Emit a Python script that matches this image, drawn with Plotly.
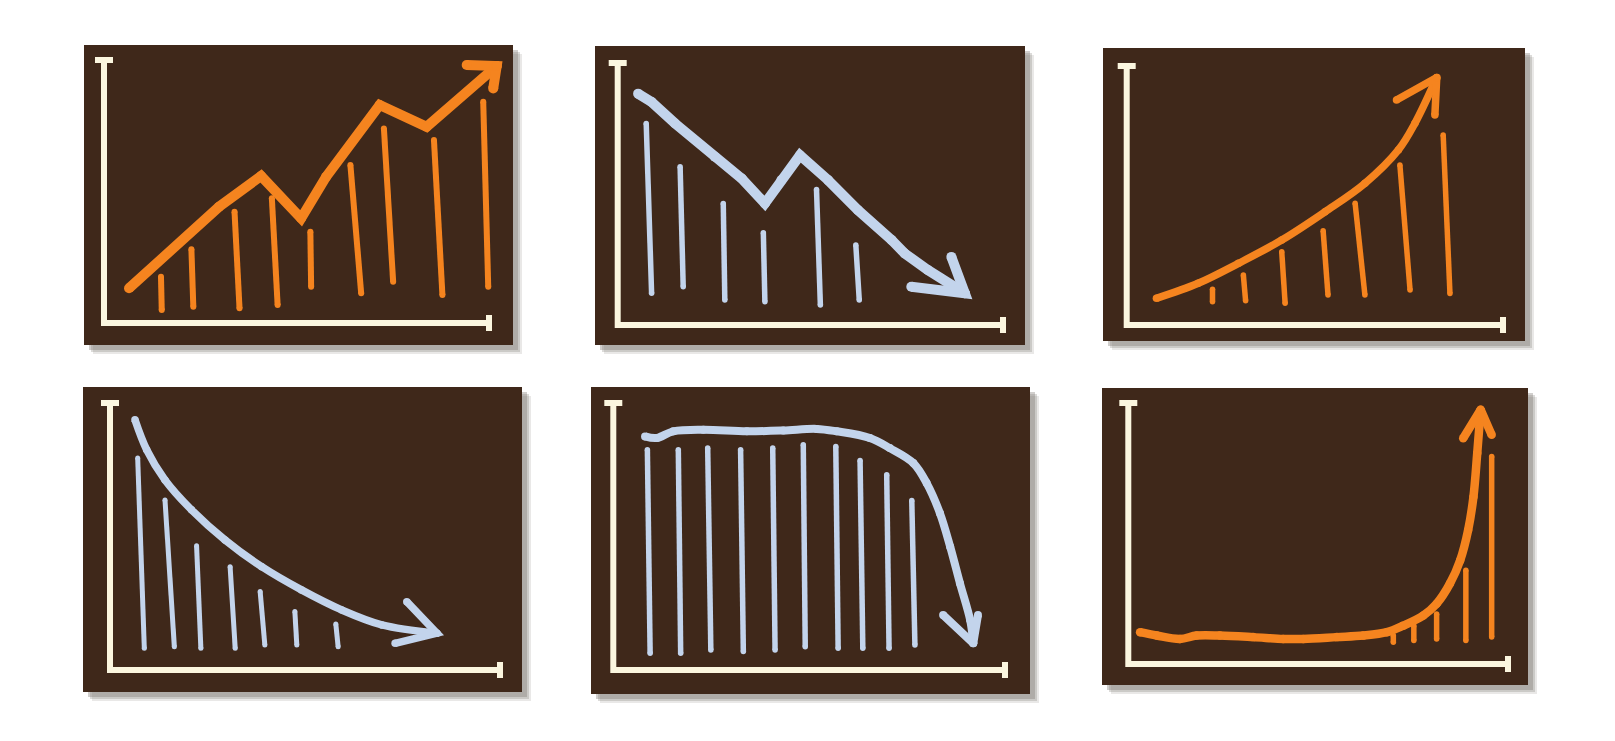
import plotly.graph_objects as go

# The page body keeps its default 8px margin, so the figure is drawn inside it.
PAGE_W, PAGE_H = 1615, 741
OFF = 8
W, H = PAGE_W - 2 * OFF, PAGE_H - 2 * OFF
BROWN = "#3f281a"
ORANGE = "#f5841f"
BLUE = "#c3d4ec"
CREAM = "#fbf6df"

# ---------------- data (values on a 0-10 scale inside each mini chart) ----------------
# Panel 1: zig-zag rise (orange)
p1_line_x = [0.65, 2.99, 4.08, 5.12, 5.77, 7.16, 8.38, 10.20]
p1_line_y = [1.32, 4.42, 5.59, 3.98, 5.56, 8.29, 7.46, 9.77]
p1_head_x = [9.42, 10.20, 10.11]
p1_head_y = [9.81, 9.77, 8.92]
p1_bar_xt = [1.48, 2.27, 3.39, 4.36, 5.36, 6.40, 7.27, 8.57, 9.85]
p1_bar_xb = [1.50, 2.32, 3.52, 4.51, 5.38, 6.68, 7.51, 8.79, 9.98]
p1_bar_top = [1.76, 2.80, 4.23, 4.74, 3.47, 6.01, 7.40, 6.96, 8.41]
p1_bar_bot = [0.49, 0.62, 0.56, 0.68, 1.38, 1.13, 1.57, 1.06, 1.38]

# Panel 2: zig-zag decline (blue)
p2_line_x = [0.53, 0.88, 1.49, 2.52, 3.22, 3.82, 4.25, 4.73, 5.46, 6.24, 7.11, 7.45, 8.05, 9.01]
p2_line_y = [8.83, 8.51, 7.69, 6.42, 5.59, 4.64, 5.53, 6.48, 5.53, 4.38, 3.24, 2.73, 2.10, 1.21]
p2_head_x = [7.62, 9.01, 8.66]
p2_head_y = [1.46, 1.21, 2.60]
p2_bar_xt = [0.74, 1.62, 2.74, 3.78, 5.16, 6.18]
p2_bar_xb = [0.88, 1.70, 2.78, 3.82, 5.26, 6.27]
p2_bar_top = [7.69, 6.04, 4.64, 3.52, 5.17, 3.05]
p2_bar_bot = [1.21, 1.46, 0.95, 0.89, 0.76, 0.95]

# Panel 3: smooth growth (orange)
p3_line_x = [0.79, 1.90, 2.97, 4.12, 5.27, 6.33, 7.22, 7.66, 8.24]
p3_line_y = [1.03, 1.61, 2.38, 3.28, 4.37, 5.47, 6.76, 7.79, 9.56]
p3_head_x = [7.17, 8.24, 8.19]
p3_head_y = [8.69, 9.56, 8.11]
p3_bar_xt = [2.28, 3.10, 4.12, 5.22, 6.07, 7.26, 8.41]
p3_bar_xb = [2.28, 3.16, 4.21, 5.35, 6.33, 7.53, 8.59]
p3_bar_top = [1.38, 1.93, 2.83, 3.64, 4.70, 6.18, 7.34]
p3_bar_bot = [0.90, 0.94, 0.84, 1.16, 1.16, 1.35, 1.22]

# Panel 4: decay (blue)
p4_line_x = [0.64, 0.94, 1.41, 2.09, 2.95, 3.89, 4.91, 5.94, 6.97, 8.38]
p4_line_y = [9.37, 8.25, 7.12, 6.00, 4.87, 3.87, 3.00, 2.25, 1.69, 1.38]
p4_head_x = [7.61, 8.38, 7.31]
p4_head_y = [2.56, 1.38, 1.00]
p4_bar_xt = [0.71, 1.41, 2.22, 3.08, 3.85, 4.74, 5.79]
p4_bar_xb = [0.88, 1.65, 2.33, 3.21, 3.97, 4.79, 5.85]
p4_bar_top = [7.94, 6.37, 4.65, 3.87, 2.94, 2.19, 1.72]
p4_bar_bot = [0.81, 0.87, 0.81, 0.81, 0.94, 0.94, 0.87]

# Panel 5: plateau then collapse (blue)
p5_line_x = [0.81, 1.11, 1.53, 2.30, 3.41, 4.34, 5.19, 5.70, 6.55, 7.06, 7.66, 8.00, 8.34, 8.60, 8.85, 9.11, 9.19]
p5_line_y = [8.75, 8.69, 8.94, 9.00, 8.94, 8.97, 9.03, 8.94, 8.69, 8.31, 7.75, 7.00, 5.87, 4.62, 3.25, 1.87, 1.00]
p5_head_x = [8.42, 9.19, 9.31]
p5_head_y = [2.06, 1.00, 2.06]
p5_bar_xt = [0.87, 1.66, 2.41, 3.25, 4.07, 4.85, 5.68, 6.30, 6.98, 7.62]
p5_bar_xb = [0.94, 1.72, 2.49, 3.32, 4.13, 4.90, 5.74, 6.37, 7.04, 7.70]
p5_bar_top = [8.25, 8.25, 8.31, 8.25, 8.31, 8.44, 8.37, 7.85, 7.31, 6.35]
p5_bar_bot = [0.63, 0.63, 0.75, 0.69, 0.75, 0.87, 0.81, 0.81, 0.81, 0.94]

# Panel 6: flat then explosive growth (orange)
p6_line_x = [0.31, 0.75, 1.36, 1.80, 2.41, 3.29, 4.08, 4.61, 5.49, 6.19, 6.81, 7.24, 7.77, 8.12, 8.47, 8.74, 8.95, 9.09, 9.19, 9.28]
p6_line_y = [1.22, 1.09, 0.96, 1.09, 1.09, 1.03, 0.96, 0.96, 1.03, 1.09, 1.22, 1.47, 1.86, 2.31, 3.08, 3.97, 5.13, 6.41, 8.08, 9.74]
p6_head_x = [8.82, 9.28, 9.57]
p6_head_y = [8.65, 9.74, 8.78]
p6_bar_xt = [6.98, 7.52, 8.12, 8.89, 9.57]
p6_bar_xb = [6.98, 7.52, 8.12, 8.89, 9.57]
p6_bar_top = [1.09, 1.47, 1.92, 3.59, 7.95]
p6_bar_bot = [0.83, 0.90, 0.96, 0.90, 1.03]

# ---------------- layout geometry (page pixels) ----------------
panels = [
    dict(box=(84, 45, 513, 345), o=(104, 323), xend=489, ytop=60),
    dict(box=(595, 46, 1025, 345), o=(617.7, 325), xend=1003, ytop=63),
    dict(box=(1103, 48, 1525, 341), o=(1126.7, 325), xend=1503, ytop=66),
    dict(box=(83, 387, 522, 692), o=(110, 670), xend=500, ytop=403),
    dict(box=(591, 387, 1030, 694), o=(613.3, 670), xend=1005, ytop=403),
    dict(box=(1102, 388, 1528, 685), o=(1128.3, 664), xend=1508, ytop=403),
]

# (line, head, bars, colour, line shape, line width, bar width)
series = [
    (p1_line_x, p1_line_y, p1_head_x, p1_head_y, p1_bar_xt, p1_bar_xb, p1_bar_top, p1_bar_bot, ORANGE, "linear", 10, 6),
    (p2_line_x, p2_line_y, p2_head_x, p2_head_y, p2_bar_xt, p2_bar_xb, p2_bar_top, p2_bar_bot, BLUE, "linear", 10, 5.5),
    (p3_line_x, p3_line_y, p3_head_x, p3_head_y, p3_bar_xt, p3_bar_xb, p3_bar_top, p3_bar_bot, ORANGE, "spline", 7.5, 5.5),
    (p4_line_x, p4_line_y, p4_head_x, p4_head_y, p4_bar_xt, p4_bar_xb, p4_bar_top, p4_bar_bot, BLUE, "spline", 7.5, 5),
    (p5_line_x, p5_line_y, p5_head_x, p5_head_y, p5_bar_xt, p5_bar_xb, p5_bar_top, p5_bar_bot, BLUE, "spline", 8, 5.5),
    (p6_line_x, p6_line_y, p6_head_x, p6_head_y, p6_bar_xt, p6_bar_xb, p6_bar_top, p6_bar_bot, ORANGE, "spline", 8.5, 5.5),
]


def px(x):
    return (x - OFF) / W


def py(y):
    return 1 - (y - OFF) / H


fig = go.Figure()
shapes = []
layout_axes = {}

for i, (pn, s) in enumerate(zip(panels, series), start=1):
    L, T, R, B = pn["box"]
    ox, oy = pn["o"]
    ux = (pn["xend"] - ox) / 10.0
    uy = (oy - pn["ytop"]) / 10.0
    xr = [(L - ox) / ux, (R - ox) / ux]
    yr = [(oy - B) / uy, (oy - T) / uy]
    xn = "x" if i == 1 else f"x{i}"
    yn = "y" if i == 1 else f"y{i}"
    layout_axes["xaxis" if i == 1 else f"xaxis{i}"] = dict(
        domain=[px(L), px(R)], range=xr, visible=False, fixedrange=True, anchor=yn)
    layout_axes["yaxis" if i == 1 else f"yaxis{i}"] = dict(
        domain=[py(B), py(T)], range=yr, visible=False, fixedrange=True, anchor=xn)

    # soft shadow + panel
    for off, a in ((9, 0.16), (7, 0.26), (5, 0.34)):
        shapes.append(dict(type="rect", xref="paper", yref="paper", layer="below",
                           x0=px(L + off), x1=px(R + off), y0=py(B + off), y1=py(T + off),
                           fillcolor=f"rgba(120,115,108,{a})", line=dict(width=0)))
    shapes.append(dict(type="rect", xref="paper", yref="paper", layer="below",
                       x0=px(L), x1=px(R), y0=py(B), y1=py(T),
                       fillcolor=BROWN, line=dict(width=0)))

    # hand-drawn style axes with end caps
    shapes.append(dict(type="path", xref=xn, yref=yn, layer="above",
                       path="M 0 10 L 0 0 L 10 0", line=dict(color=CREAM, width=6)))
    cw = 9 / ux
    ch = 8 / uy
    shapes.append(dict(type="line", xref=xn, yref=yn, x0=-cw, x1=cw, y0=10, y1=10,
                       line=dict(color=CREAM, width=6)))
    shapes.append(dict(type="line", xref=xn, yref=yn, x0=10, x1=10, y0=-ch, y1=ch,
                       line=dict(color=CREAM, width=6)))

    lx, ly, hx, hy, bxt, bxb, bt, bb, col, shape, lw, bw = s
    # bars as hand-drawn strokes
    bx, by = [], []
    for xt, xb, t, b in zip(bxt, bxb, bt, bb):
        bx += [xb, xt, None]
        by += [b, t, None]
    fig.add_trace(go.Scatter(x=bx, y=by, xaxis=xn, yaxis=yn, mode="lines+markers",
                             line=dict(color=col, width=bw), marker=dict(color=col, size=bw),
                             hoverinfo="skip", showlegend=False))
    # main trend line
    fig.add_trace(go.Scatter(x=lx, y=ly, xaxis=xn, yaxis=yn, mode="lines+markers",
                             line=dict(color=col, width=lw, shape=shape, smoothing=1.0),
                             marker=dict(color=col, size=lw),
                             hoverinfo="skip", showlegend=False))
    # arrow head
    fig.add_trace(go.Scatter(x=hx, y=hy, xaxis=xn, yaxis=yn, mode="lines+markers",
                             line=dict(color=col, width=lw), marker=dict(color=col, size=lw),
                             hoverinfo="skip", showlegend=False))

fig.update_layout(
    width=W, height=H, margin=dict(l=0, r=0, t=0, b=0),
    paper_bgcolor="white", plot_bgcolor="rgba(0,0,0,0)",
    shapes=shapes, hovermode=False, showlegend=False,
    **layout_axes,
)
fig.write_html("out.html", config={"displayModeBar": False})
